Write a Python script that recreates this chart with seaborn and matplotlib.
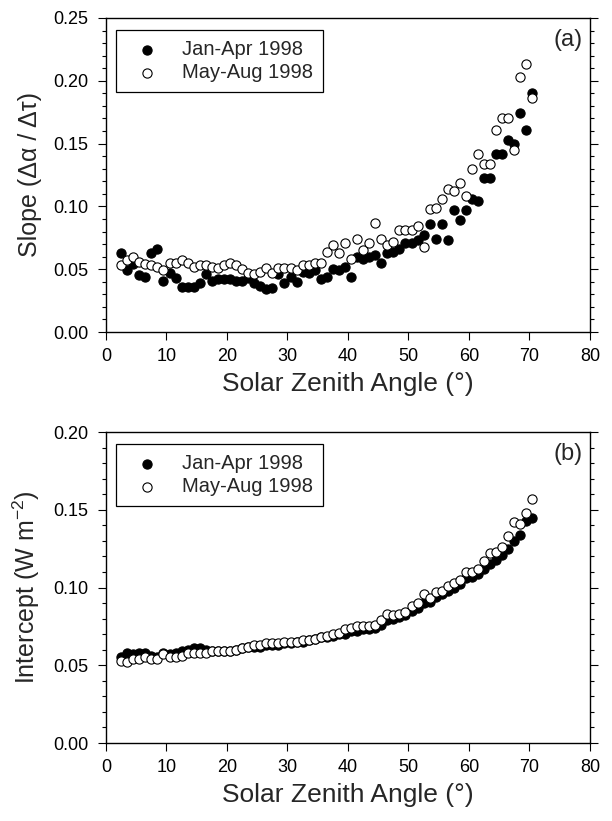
import numpy as np
import pandas as pd
import matplotlib
matplotlib.use("Agg")
import matplotlib.pyplot as plt
from matplotlib.ticker import MultipleLocator, FormatStrFormatter
import seaborn as sns

# Solar zenith angle bins (degrees)
sza = [2.5, 3.5, 4.5, 5.5, 6.5, 7.5, 8.5, 9.5, 10.5, 11.5,
       12.5, 13.5, 14.5, 15.5, 16.5, 17.5, 18.5, 19.5, 20.5, 21.5,
       22.5, 23.5, 24.5, 25.5, 26.5, 27.5, 28.5, 29.5, 30.5, 31.5,
       32.5, 33.5, 34.5, 35.5, 36.5, 37.5, 38.5, 39.5, 40.5, 41.5,
       42.5, 43.5, 44.5, 45.5, 46.5, 47.5, 48.5, 49.5, 50.5, 51.5,
       52.5, 53.5, 54.5, 55.5, 56.5, 57.5, 58.5, 59.5, 60.5, 61.5,
       62.5, 63.5, 64.5, 65.5, 66.5, 67.5, 68.5, 69.5, 70.5]

# (a) slope of albedo vs optical depth
slope_jan_apr = [0.063, 0.049, 0.054, 0.045, 0.044, 0.063, 0.066, 0.041, 0.047, 0.043,
                 0.036, 0.036, 0.036, 0.039, 0.046, 0.041, 0.042, 0.042, 0.042, 0.041,
                 0.041, 0.043, 0.039, 0.037, 0.034, 0.035, 0.046, 0.039, 0.044, 0.040,
                 0.048, 0.047, 0.049, 0.042, 0.044, 0.050, 0.049, 0.052, 0.044, 0.060,
                 0.058, 0.060, 0.061, 0.055, 0.063, 0.064, 0.066, 0.071, 0.071, 0.073,
                 0.077, 0.086, 0.074, 0.086, 0.073, 0.097, 0.089, 0.097, 0.106, 0.104,
                 0.123, 0.123, 0.142, 0.142, 0.153, 0.150, 0.174, 0.161, 0.190]
slope_may_aug = [0.053, 0.057, 0.060, 0.056, 0.054, 0.053, 0.052, 0.049, 0.055, 0.055,
                 0.057, 0.055, 0.052, 0.053, 0.053, 0.052, 0.051, 0.053, 0.055, 0.053,
                 0.050, 0.047, 0.046, 0.048, 0.051, 0.047, 0.051, 0.051, 0.051, 0.049,
                 0.053, 0.053, 0.055, 0.055, 0.064, 0.069, 0.063, 0.071, 0.058, 0.074,
                 0.065, 0.071, 0.087, 0.074, 0.069, 0.072, 0.081, 0.081, 0.081, 0.084,
                 0.068, 0.098, 0.099, 0.106, 0.114, 0.112, 0.119, 0.108, 0.130, 0.142,
                 0.134, 0.134, 0.161, 0.170, 0.170, 0.145, 0.203, 0.213, 0.186]

# (b) intercept (W m-2)
icpt_jan_apr = [0.055, 0.058, 0.057, 0.058, 0.058, 0.056, 0.055, 0.058, 0.057, 0.058,
                0.059, 0.060, 0.061, 0.061, 0.060, 0.059, 0.059, 0.059, 0.059, 0.060,
                0.061, 0.062, 0.062, 0.062, 0.063, 0.063, 0.063, 0.064, 0.064, 0.065,
                0.065, 0.066, 0.067, 0.068, 0.068, 0.069, 0.070, 0.070, 0.072, 0.072,
                0.073, 0.073, 0.074, 0.076, 0.079, 0.080, 0.081, 0.082, 0.085, 0.087,
                0.090, 0.091, 0.094, 0.096, 0.098, 0.100, 0.102, 0.106, 0.107, 0.109,
                0.112, 0.115, 0.118, 0.121, 0.125, 0.130, 0.134, 0.143, 0.145]
icpt_may_aug = [0.053, 0.052, 0.054, 0.054, 0.055, 0.054, 0.054, 0.057, 0.055, 0.055,
                0.056, 0.058, 0.058, 0.058, 0.058, 0.059, 0.059, 0.059, 0.059, 0.060,
                0.061, 0.062, 0.063, 0.063, 0.064, 0.064, 0.064, 0.065, 0.065, 0.065,
                0.066, 0.066, 0.067, 0.068, 0.069, 0.070, 0.071, 0.073, 0.074, 0.075,
                0.075, 0.075, 0.076, 0.079, 0.083, 0.082, 0.083, 0.084, 0.088, 0.090,
                0.096, 0.093, 0.097, 0.098, 0.101, 0.103, 0.105, 0.110, 0.110, 0.112,
                0.117, 0.122, 0.123, 0.126, 0.133, 0.142, 0.141, 0.148, 0.157]

periods = ["Jan-Apr 1998", "May-Aug 1998"]
x_ticks = [0, 10, 20, 30, 40, 50, 60, 70, 80]

sns.set_style("ticks")
plt.rcParams["font.family"] = ["Liberation Sans", "DejaVu Sans"]
plt.rcParams["mathtext.default"] = "regular"

fig = plt.figure(figsize=(6.12, 8.21), dpi=100)
ax_a = fig.add_axes([0.1732, 0.5956, 0.7908, 0.3825])
ax_b = fig.add_axes([0.1732, 0.0950, 0.7908, 0.3788])

panels = [
    (ax_a, slope_jan_apr, slope_may_aug, 0.25, "Slope (\u0394\u03b1 / \u0394\u03c4)", "(a)"),
    (ax_b, icpt_jan_apr, icpt_may_aug, 0.20, "Intercept (W m$^{-2}$)", "(b)"),
]

for ax, jan, may, ymax, ylabel, tag in panels:
    df = pd.DataFrame({
        "sza": sza * 2,
        "value": jan + may,
        "period": [periods[0]] * len(jan) + [periods[1]] * len(may),
    })
    for period, face in zip(periods, ["black", "white"]):
        sub = df[df["period"] == period]
        sns.scatterplot(data=sub, x="sza", y="value", ax=ax, s=44,
                        color=face, edgecolor="black", linewidth=0.8,
                        marker="o", label=period, zorder=3)

    ax.set_xlim(0, 80)
    ax.set_ylim(0, ymax)
    ax.set_xticks(x_ticks)
    ax.yaxis.set_major_locator(MultipleLocator(0.05))
    ax.yaxis.set_minor_locator(MultipleLocator(0.01))
    ax.yaxis.set_major_formatter(FormatStrFormatter("%.2f"))
    ax.tick_params(which="both", direction="out", right=True, top=False,
                   width=0.8, colors="black", labelsize=13)
    ax.tick_params(which="major", length=5.5)
    ax.tick_params(which="minor", length=3)
    ax.tick_params(axis="x", pad=6)
    ax.tick_params(axis="y", pad=7)
    for sp in ax.spines.values():
        sp.set_visible(True)
        sp.set_linewidth(1.0)
        sp.set_color("black")

    ax.set_xlabel("Solar Zenith Angle (\u00b0)", fontsize=19, labelpad=5)
    ax.set_ylabel(ylabel, fontsize=18, labelpad=8)
    ax.text(0.985, 0.965, tag, transform=ax.transAxes, ha="right", va="top",
            fontsize=17)

    leg = ax.legend(loc="upper left", bbox_to_anchor=(0.021, 0.962),
                    borderaxespad=0, frameon=True, fancybox=False,
                    framealpha=1, edgecolor="black", fontsize=14.5,
                    handletextpad=0.65, labelspacing=0.2, borderpad=0.5,
                    handlelength=2.1, markerscale=1.0)
    leg.get_frame().set_linewidth(0.9)

fig.savefig("out.png", dpi=100)
